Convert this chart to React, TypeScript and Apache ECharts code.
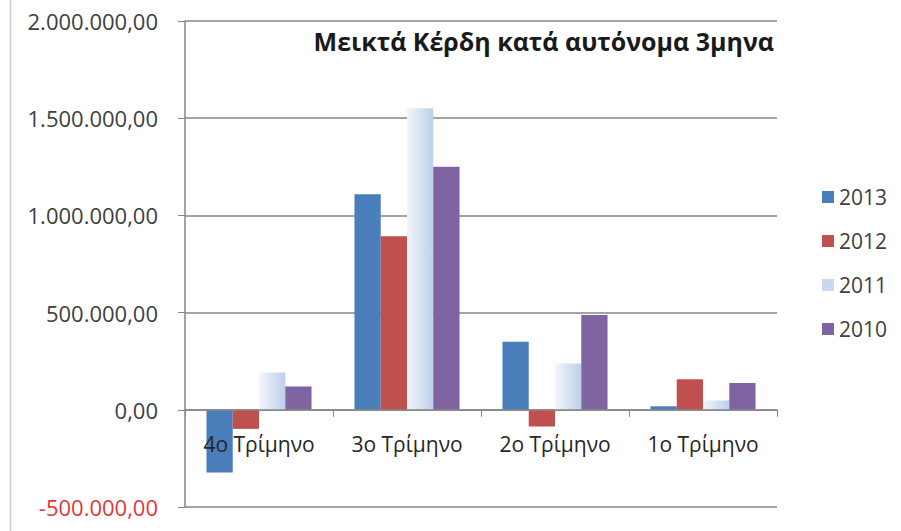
import React, { useEffect, useRef } from "react";
import * as echarts from "echarts";

const categories = ["4ο Τρίμηνο", "3ο Τρίμηνο", "2ο Τρίμηνο", "1ο Τρίμηνο"];
const years = ["2013", "2012", "2011", "2010"];
const values2013 = [-322000, 1109000, 350000, 18000];
const values2012 = [-98000, 893000, -86000, 157000];
const values2011 = [192000, 1551000, 238000, 48000];
const values2010 = [120000, 1250000, 488000, 138000];
const yTicks = { min: -500000, max: 2000000, interval: 500000 };
const titleText = "Μεικτά Κέρδη κατά αυτόνομα 3μηνα";

function fmt(v: number): string {
  const neg = v < 0;
  const a = Math.abs(Math.round(v));
  const s = String(a).replace(/\B(?=(\d{3})+(?!\d))/g, ".");
  return (neg ? "-" : "") + s + ",00";
}

export default function App() {
  const ref = useRef<HTMLDivElement>(null);
  useEffect(() => {
    if (!ref.current) return;
    const chart = echarts.init(ref.current, undefined, { renderer: "svg" });
    const font = "'Open Sans', 'Noto Sans', sans-serif";
    const lightGrad = new echarts.graphic.LinearGradient(0, 0, 1, 0, [
      { offset: 0, color: "#f3f6fb" },
      { offset: 1, color: "#bccfe9" },
    ]);
    const colors = ["#4a7ebb", "#c0504d", "#c9d8ee", "#8064a2"];
    const data = [values2013, values2012, values2011, values2010];
    const gridTop = 21;
    const gridBottomY = 507;
    // position of zero on the value axis, derived from the axis range
    const zeroY =
      gridTop + ((yTicks.max - 0) / (yTicks.max - yTicks.min)) * (gridBottomY - gridTop);
    chart.setOption({
      animation: false,
      backgroundColor: "#ffffff",
      textStyle: { fontFamily: font },
      title: {
        text: titleText,
        right: 122,
        top: 23,
        textStyle: { fontFamily: font, fontSize: 25, fontWeight: "bold", color: "#1a1a1a" },
      },
      legend: {
        orient: "vertical",
        left: 817,
        top: 181,
        itemWidth: 12,
        itemHeight: 12,
        itemGap: 22,
        icon: "rect",
        textStyle: { fontFamily: font, fontSize: 21, color: "#404040", lineHeight: 22 },
        data: years.map((y, i) => ({ name: y, itemStyle: { color: colors[i] } })),
      },
      grid: {
        left: 185,
        right: 124,
        top: gridTop,
        bottom: 531 - gridBottomY,
        containLabel: false,
        outerBoundsMode: "none",
      },
      xAxis: {
        type: "category",
        data: categories,
        position: "bottom",
        offset: -(gridBottomY - zeroY),
        z: 5,
        axisLine: { onZero: false, lineStyle: { color: "#868686", width: 1.5 } },
        axisTick: { show: true, length: 7, lineStyle: { color: "#868686" } },
        axisLabel: { margin: 24, fontFamily: font, fontSize: 21, color: "#262626" },
      },
      yAxis: {
        type: "value",
        min: yTicks.min,
        max: yTicks.max,
        interval: yTicks.interval,
        axisLine: { show: true, lineStyle: { color: "#868686", width: 1.5 } },
        axisTick: { show: true, length: 7, lineStyle: { color: "#868686" } },
        splitLine: { show: true, lineStyle: { color: "#868686", width: 1.5 } },
        axisLabel: {
          margin: 27,
          fontFamily: font,
          fontSize: 22,
          color: "#404040",
          formatter: (v: number) => (v < 0 ? "{neg|" + fmt(v) + "}" : fmt(v)),
          rich: { neg: { color: "#e0383a", fontFamily: font, fontSize: 22 } },
        },
      },
      series: years.map((y, i) => ({
        name: y,
        type: "bar",
        data: data[i],
        barGap: "0%",
        barCategoryGap: "29%",
        itemStyle: { color: i === 2 ? lightGrad : colors[i] },
      })),
      graphic: [
        {
          type: "line",
          shape: { x1: 10.5, y1: 0, x2: 10.5, y2: 531 },
          style: { stroke: "#d0d0d0", lineWidth: 1.5 },
        },
      ],
    });
    return () => chart.dispose();
  }, []);
  return <div ref={ref} style={{ width: 901, height: 531, position: "absolute", left: 0, top: 0 }} />;
}
